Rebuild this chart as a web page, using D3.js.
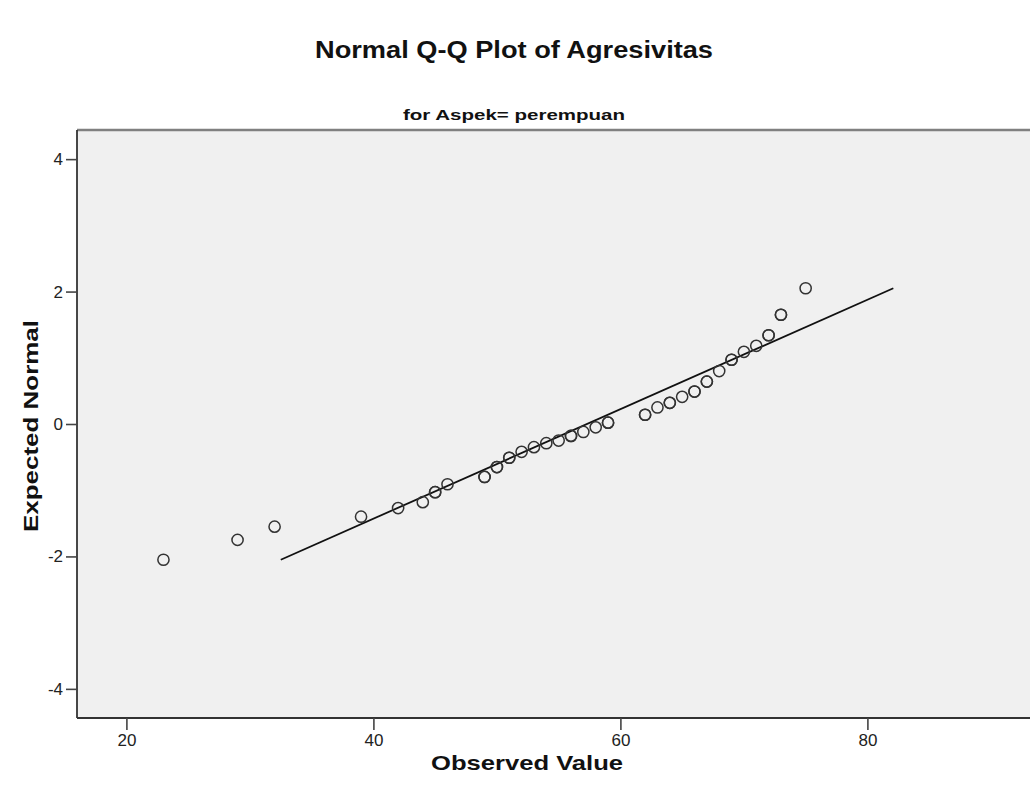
<!DOCTYPE html>
<html>
<head>
<meta charset="utf-8">
<script src="https://cdn.jsdelivr.net/npm/d3@7"></script>
<style>
  html, body { margin: 0; padding: 0; background: #ffffff; }
  svg { display: block; }
</style>
</head>
<body>
<div id="chart"></div>
<script>
// ---- data ----
const chartTitle = "Normal Q-Q Plot of Agresivitas";
const subTitle = "for Aspek= perempuan";
const xAxisTitle = "Observed Value";
const yAxisTitle = "Expected Normal";

const xTicks = [20, 40, 60, 80];
const yTicks = [-4, -2, 0, 2, 4];

// observed values, expected normal values, number of cases at each point
const observed = [23, 29, 32, 39, 42, 44, 45, 46, 49, 50, 51, 52, 53, 54, 55, 56,
                  57, 58, 59, 62, 63, 64, 65, 66, 67, 68, 69, 70, 71, 72, 73, 75];
const expected = [-2.05, -1.75, -1.55, -1.40, -1.27, -1.18, -1.03, -0.91, -0.80, -0.65,
                  -0.51, -0.42, -0.35, -0.29, -0.25, -0.18, -0.12, -0.05, 0.02, 0.14,
                  0.25, 0.32, 0.41, 0.49, 0.64, 0.80, 0.97, 1.09, 1.18, 1.34, 1.65, 2.05];
const counts = [1, 1, 1, 1, 1, 1, 2, 1, 2, 2, 2, 1, 1, 1, 1, 2,
                1, 1, 2, 2, 1, 2, 1, 2, 2, 1, 2, 1, 1, 2, 2, 1];

// reference line endpoints
const lineObserved = [32.5, 82.1];
const lineExpected = [-2.05, 2.05];

// ---- layout ----
const W = 1030, H = 803;
const plot = { left: 77, top: 130, right: 1065, bottom: 718 };

const svg = d3.select("#chart").append("svg")
  .attr("width", W).attr("height", H)
  .attr("viewBox", `0 0 ${W} ${H}`);

const x = d3.scaleLinear().domain([16, 96]).range([plot.left, plot.right]);
const y = d3.scaleLinear().domain([-4.44, 4.44]).range([plot.bottom, plot.top]);

// plot background
svg.append("rect")
  .attr("x", plot.left).attr("y", plot.top)
  .attr("width", plot.right - plot.left).attr("height", plot.bottom - plot.top)
  .attr("fill", "#f0f0f0");

// frame
svg.append("line").attr("x1", plot.left).attr("x2", plot.right)
  .attr("y1", plot.top).attr("y2", plot.top)
  .attr("stroke", "#808080").attr("stroke-width", 2.5);
svg.append("line").attr("x1", plot.left).attr("x2", plot.left)
  .attr("y1", plot.top).attr("y2", plot.bottom)
  .attr("stroke", "#333").attr("stroke-width", 1.8);
svg.append("line").attr("x1", plot.left).attr("x2", plot.right)
  .attr("y1", plot.bottom).attr("y2", plot.bottom)
  .attr("stroke", "#333").attr("stroke-width", 1.8);

const tickFont = "'Liberation Sans Narrow', 'Liberation Sans', Arial, sans-serif";
const hyphenFmt = d => String(d).replace("\u2212", "-");

// x axis
const xAxis = d3.axisBottom(x).tickValues(xTicks).tickSize(12).tickPadding(4).tickFormat(hyphenFmt);
const gx = svg.append("g").attr("transform", `translate(0,${plot.bottom})`).call(xAxis);
gx.select(".domain").remove();
gx.selectAll(".tick line").attr("stroke", "#444").attr("stroke-width", 1.6);
gx.selectAll(".tick text").attr("font-family", tickFont).attr("font-size", 17).attr("fill", "#222");

// y axis
const yAxis = d3.axisLeft(y).tickValues(yTicks).tickSize(11).tickPadding(3).tickFormat(hyphenFmt);
const gy = svg.append("g").attr("transform", `translate(${plot.left},0)`).call(yAxis);
gy.select(".domain").remove();
gy.selectAll(".tick line").attr("stroke", "#444").attr("stroke-width", 1.6);
gy.selectAll(".tick text").attr("font-family", tickFont).attr("font-size", 17).attr("fill", "#222");

// reference line
const lineData = lineObserved.map((v, i) => [v, lineExpected[i]]);
svg.append("path")
  .datum(lineData)
  .attr("d", d3.line().x(d => x(d[0])).y(d => y(d[1])))
  .attr("fill", "none").attr("stroke", "#111").attr("stroke-width", 1.8);

// points (cases at the same position are drawn on top of each other)
const pts = [];
observed.forEach((v, i) => { for (let k = 0; k < counts[i]; k++) pts.push([v, expected[i]]); });
svg.append("g").selectAll("circle").data(pts).join("circle")
  .attr("cx", d => x(d[0])).attr("cy", d => y(d[1]))
  .attr("r", 5.6)
  .attr("fill", "none").attr("stroke", "#333").attr("stroke-width", 1.5);

// titles
const textFont = "'Liberation Sans', Arial, sans-serif";
svg.append("text").text(chartTitle)
  .attr("x", 514).attr("y", 58).attr("text-anchor", "middle")
  .attr("font-family", textFont).attr("font-weight", "bold").attr("font-size", 23)
  .attr("textLength", 398).attr("lengthAdjust", "spacingAndGlyphs").attr("fill", "#111");

svg.append("text").text(subTitle)
  .attr("x", 514).attr("y", 120).attr("text-anchor", "middle")
  .attr("font-family", textFont).attr("font-weight", "bold").attr("font-size", 15)
  .attr("textLength", 222).attr("lengthAdjust", "spacingAndGlyphs").attr("fill", "#111");

svg.append("text").text(xAxisTitle)
  .attr("x", 527).attr("y", 770).attr("text-anchor", "middle")
  .attr("font-family", textFont).attr("font-weight", "bold").attr("font-size", 21)
  .attr("textLength", 192).attr("lengthAdjust", "spacingAndGlyphs").attr("fill", "#111");

svg.append("text").text(yAxisTitle)
  .attr("transform", "translate(38,426) rotate(-90)").attr("text-anchor", "middle")
  .attr("font-family", textFont).attr("font-weight", "bold").attr("font-size", 21)
  .attr("textLength", 212).attr("lengthAdjust", "spacingAndGlyphs").attr("fill", "#111");
</script>
</body>
</html>
